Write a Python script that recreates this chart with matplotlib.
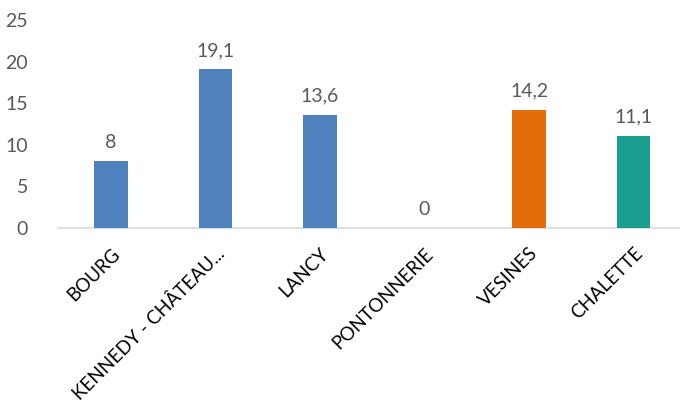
import matplotlib
matplotlib.use("Agg")
import matplotlib.pyplot as plt

categories = ['BOURG', 'KENNEDY - CHÂTEAU...', 'LANCY', 'PONTONNERIE', 'VESINES', 'CHALETTE']
values = [8, 19.1, 13.6, 0, 14.2, 11.1]
value_labels = ['8', '19,1', '13,6', '0', '14,2', '11,1']
colors = ['#4F81BD', '#4F81BD', '#4F81BD', '#4F81BD', '#E46C0A', '#1B9E90']
yticks = [0, 5, 10, 15, 20, 25]

plt.rcParams['font.family'] = ['Lato', 'DejaVu Sans']

fig = plt.figure(figsize=(6.8, 4.04), dpi=100)
ax = fig.add_axes([58.5 / 680, 1 - 228 / 404, 627.5 / 680, 208 / 404])

x = list(range(len(categories)))
ax.bar(x, values, width=0.32, color=colors, zorder=3)

for xi, v, lab in zip(x, values, value_labels):
    ax.text(xi, v + 1.2, lab, ha='center', va='bottom', fontsize=14, color='#595959')

ax.set_xlim(-0.5, len(categories) - 0.5)
ax.set_ylim(0, 25)
ax.set_yticks(yticks)
ax.set_yticklabels([str(t) for t in yticks], fontsize=14, color='#595959')
ax.set_xticks(x)
ax.set_xticklabels(categories, rotation=45, ha='right', rotation_mode='anchor',
                   fontsize=13.5, color='black')

for s in ['top', 'right', 'left']:
    ax.spines[s].set_visible(False)
ax.spines['bottom'].set_color('#D9D9D9')
ax.spines['bottom'].set_linewidth(1.2)
ax.tick_params(axis='both', length=0)
ax.tick_params(axis='y', pad=22)
ax.tick_params(axis='x', pad=12)

fig.savefig('out.png', dpi=100)
